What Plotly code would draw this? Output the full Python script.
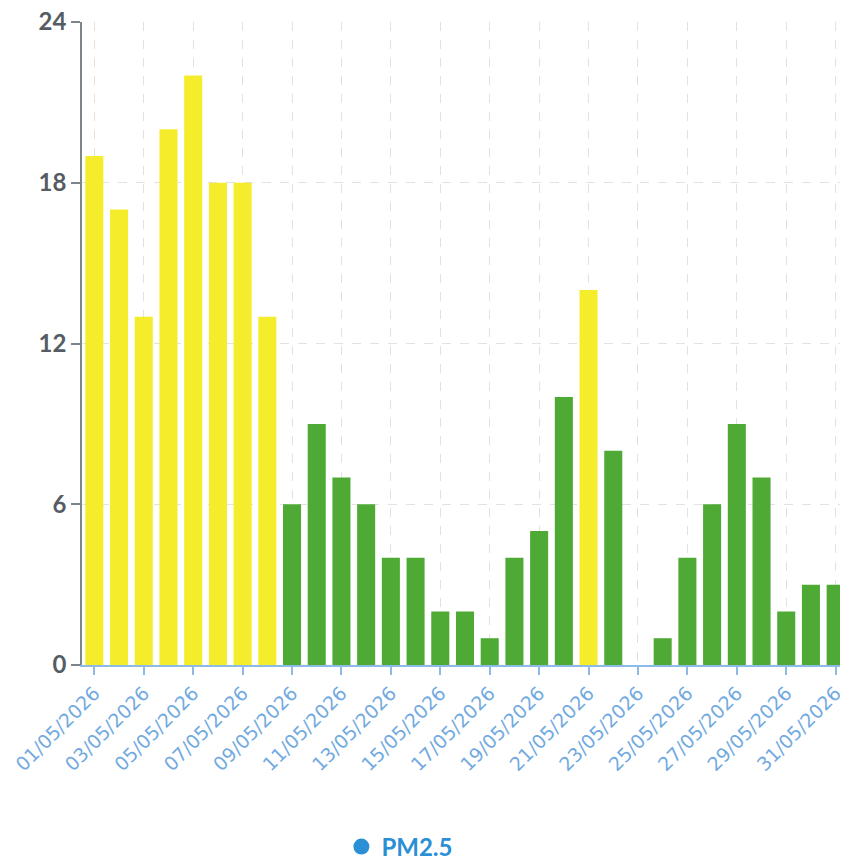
import plotly.graph_objects as go

dates = [f"{d:02d}/05/2026" for d in range(1, 32)]
pm25 = [19, 17, 13, 20, 22, 18, 18, 13, 6, 9, 7, 6, 4, 4, 2, 2, 1, 4, 5, 10,
        14, 8, 0, 1, 4, 6, 9, 7, 2, 3, 3]
tick_labels = dates[::2]
y_ticks = [0, 6, 12, 18, 24]

YELLOW = "#f5ec2c"
GREEN = "#4ea935"
colors = [YELLOW if v > 12 else GREEN for v in pm25]

fig = go.Figure()
fig.add_trace(go.Bar(x=dates, y=pm25, marker=dict(color=colors, line=dict(width=0)),
                     showlegend=False, name="PM2.5"))
fig.add_trace(go.Scatter(x=[None], y=[None], mode="markers", name="PM2.5",
                         marker=dict(symbol="circle", size=24, color="#2b8fd6")))

# page body has an 8px margin; the figure is sized/offset to compensate
fig.update_layout(
    width=840, height=855,
    margin=dict(l=74, r=0, t=14, b=198, autoexpand=False),
    paper_bgcolor="white", plot_bgcolor="white",
    bargap=0.27,
    font=dict(family="Lato"),
    legend=dict(orientation="h", x=0.415, xanchor="center", y=-0.283, yanchor="middle",
                font=dict(size=24, color="#2b8fd6", weight=700)),
    xaxis=dict(
        type="category", categoryorder="array", categoryarray=dates,
        tickmode="array", tickvals=tick_labels, ticktext=tick_labels,
        tickangle=-45, tickfont=dict(family="DejaVu Sans", size=19, color="#72aadf"),
        showline=True, linecolor="#8dbbe8", linewidth=1.5,
        ticks="outside", ticklen=8, tickcolor="#8dbbe8", tickwidth=1.5,
        showgrid=True, gridcolor="#e2e2e2", griddash="dash", gridwidth=1,
        range=[-0.5, 30.5], automargin=False, ticklabeloverflow="allow",
    ),
    yaxis=dict(
        range=[0, 24], tickmode="array", tickvals=y_ticks,
        tickfont=dict(size=24, color="#565c63", weight=700),
        showline=True, linecolor="#7d848a", linewidth=1.5,
        ticks="outside", ticklen=9, tickcolor="#7d848a", tickwidth=1.5,
        showgrid=True, gridcolor="#e2e2e2", griddash="dash", gridwidth=1,
        zeroline=False, automargin=False, ticklabeloverflow="allow",
    ),
)

fig.write_html("out.html")
